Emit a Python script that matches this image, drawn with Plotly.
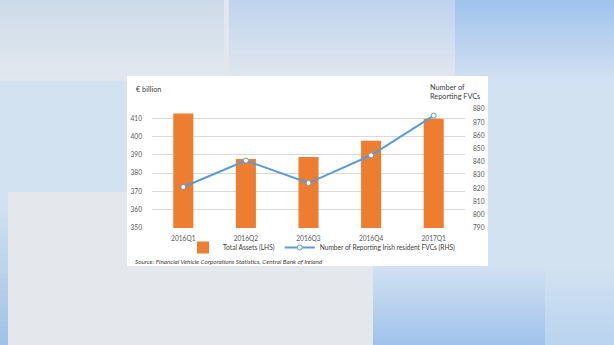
import plotly.graph_objects as go

# ---- data ----
quarters = ["2016Q1", "2016Q2", "2016Q3", "2016Q4", "2017Q1"]
total_assets = [412.6, 387.8, 388.8, 397.7, 409.8]
num_fvcs = [821, 841, 824, 845, 875]
left_ticks = [350, 360, 370, 380, 390, 400, 410]
right_ticks = [790, 800, 810, 820, 830, 840, 850, 860, 870, 880]

W, H = 614, 345
ML, MR, MT, MB = 152, 149, 109, 117
PW, PH = W - ML - MR, H - MT - MB


def px(x):
    return (x - ML) / PW


def py(y):
    return 1 - (y - MT) / PH


def hex2rgb(h):
    h = h.lstrip("#")
    return [int(h[i:i + 2], 16) for i in (0, 2, 4)]


def mix(c1, c2, t):
    a, b = hex2rgb(c1), hex2rgb(c2)
    return "rgb(%d,%d,%d)" % tuple(round(a[i] + (b[i] - a[i]) * t) for i in range(3))


shapes = []


def rect(x0, y0, x1, y1, color):
    shapes.append(dict(type="rect", xref="paper", yref="paper",
                       x0=px(x0), x1=px(x1), y0=py(y1), y1=py(y0),
                       fillcolor=color, line=dict(width=0), layer="below"))


def grad(x0, y0, x1, y1, ctop, cbot, n=24):
    h = (y1 - y0) / n
    for i in range(n):
        rect(x0, y0 + i * h, x1, y0 + (i + 1) * h + 0.6, mix(ctop, cbot, (i + 0.5) / n))


# background
rect(0, 0, W, H, "#d3e2f1")
grad(0, 0, 224, 80, "#cddbe8", "#e3e8ef")
rect(224, 0, 229, 80, "#e3e7ec")
grad(229, 0, 455, 80, "#bfd4ee", "#e2e7ee")
grad(455, 0, W, 80, "#9fc2ec", "#d2e1f2")
grad(0, 200, 8, H, "#d3e2f0", "#a0c2e8")
grad(373, 266, 545, H, "#d2e1f1", "#9ec3eb")
grad(545, 266, W, H, "#d3e2f1", "#b9d3ef")
rect(8, 192, 373, H, "#e4e7eb")
# white chart panel
rect(127, 76, 488, 266, "#ffffff")

fig = go.Figure()
fig.add_trace(go.Bar(
    x=quarters, y=total_assets, name="Total Assets (LHS)",
    marker=dict(color="#ED7D31", line=dict(width=0)),
    width=0.32, yaxis="y",
))
fig.add_trace(go.Scatter(
    x=quarters, y=num_fvcs, name="Number of Reporting Irish resident FVCs (RHS)",
    mode="lines+markers", yaxis="y2",
    line=dict(color="#5B9BD5", width=2),
    marker=dict(symbol="circle", size=5, color="#ffffff",
                line=dict(color="#5B9BD5", width=1)),
))

FONT = "Lato, Open Sans, sans-serif"
TXT = "#595959"
FS = 6.6

annotations = [
    dict(text="€ billion", x=px(134), y=py(89), xref="paper", yref="paper",
         xanchor="left", yanchor="middle", showarrow=False,
         font=dict(family=FONT, size=7.3, color="#404040")),
    dict(text="Number of<br>Reporting FVCs", x=px(428), y=py(91.5), xref="paper", yref="paper",
         xanchor="left", yanchor="middle", align="left", showarrow=False,
         font=dict(family=FONT, size=7.3, color="#404040")),
    dict(text="Source: Financial Vehicle Corporations Statistics, Central Bank of Ireland",
         x=px(133), y=py(261), xref="paper", yref="paper",
         xanchor="left", yanchor="middle", showarrow=False,
         font=dict(family=FONT, size=6.3, color="#404040", style="italic")),
]

fig.update_layout(
    width=W, height=H,
    margin=dict(l=ML, r=MR, t=MT, b=MB, pad=0),
    paper_bgcolor="#d3e2f1",
    plot_bgcolor="rgba(0,0,0,0)",
    shapes=shapes,
    annotations=annotations,
    showlegend=True,
    bargap=0.68,
    font=dict(family=FONT, size=FS, color=TXT),
    xaxis=dict(
        type="category", showgrid=False, zeroline=False, showline=False,
        ticks="", tickfont=dict(size=FS, color=TXT), ticklabelstandoff=5,
    ),
    yaxis=dict(
        range=[350, 415.1], tickvals=left_ticks, showgrid=True,
        gridcolor="#d9d9d9", gridwidth=1, zeroline=False, showline=False,
        ticks="", tickfont=dict(size=FS, color=TXT), ticklabelstandoff=9,
    ),
    yaxis2=dict(
        range=[790, 880], tickvals=right_ticks, overlaying="y", side="right",
        showgrid=False, zeroline=False, showline=False, ticks="",
        tickfont=dict(size=FS, color=TXT), ticklabelstandoff=7,
    ),
    legend=dict(
        orientation="h", x=px(322), y=py(247.5), xanchor="center", yanchor="middle",
        bgcolor="rgba(0,0,0,0)", font=dict(family=FONT, size=FS, color="#404040"),
        itemwidth=30, tracegroupgap=0, traceorder="normal",
    ),
)

fig.write_html("out.html")
